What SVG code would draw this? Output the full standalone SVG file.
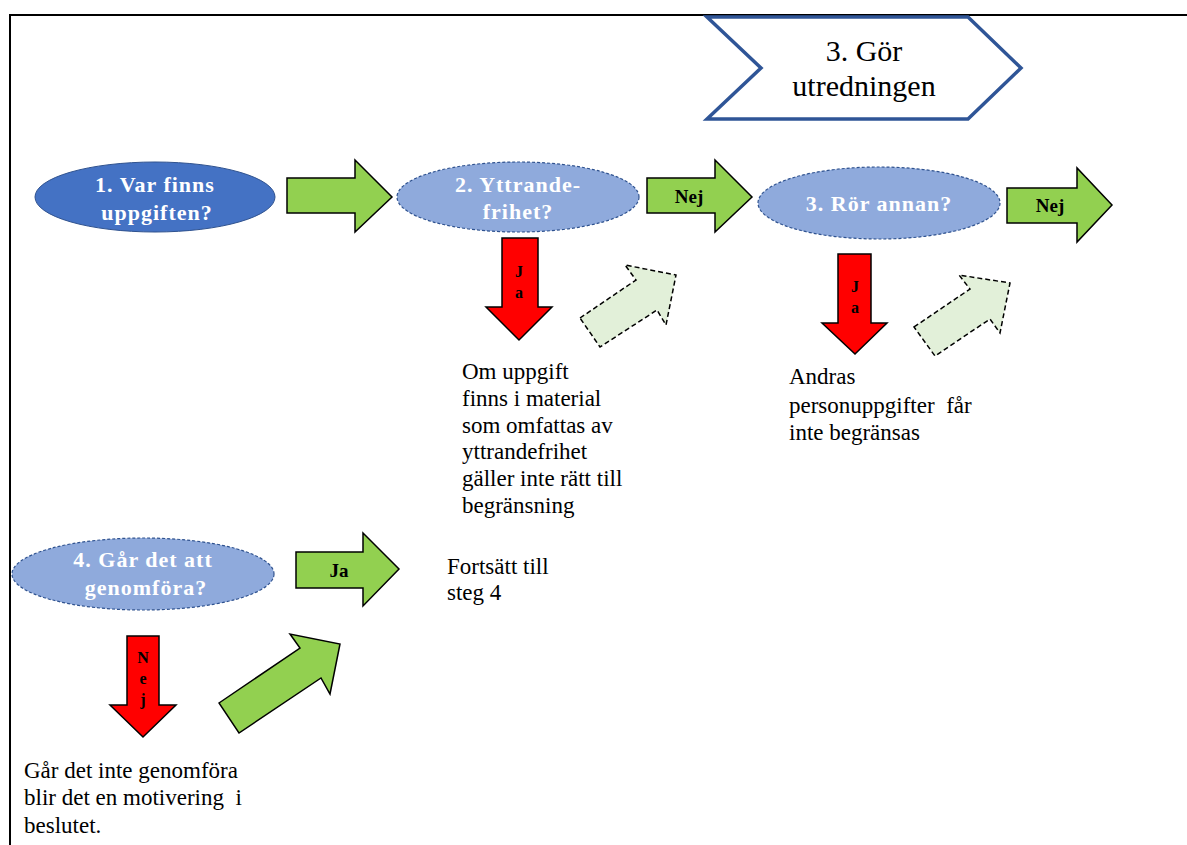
<svg xmlns="http://www.w3.org/2000/svg" width="1187" height="845" viewBox="0 0 1187 845">
  <style>
    .frame { fill: none; stroke: #000; stroke-width: 2; }
    .chev { fill: #fff; stroke: #2F5597; stroke-width: 3.5; }
    .q1 { fill: #4472C4; stroke: #2F528F; stroke-width: 1; }
    .q { fill: #8FAADC; stroke: #2F528F; stroke-width: 1.2; stroke-dasharray: 3 2; }
    .go { fill: #92D050; stroke: #000; stroke-width: 1.5; stroke-linejoin: miter; }
    .stop { fill: #FF0000; stroke: #000; stroke-width: 1.5; }
    .alt { fill: #E2F0D9; stroke: #000; stroke-width: 1.5; stroke-dasharray: 5 3; }
    .qt { font-family: "Liberation Serif", "Times New Roman", "DejaVu Serif", serif; font-weight: bold; font-size: 22px; fill: #fff; text-anchor: middle; letter-spacing: 1px; }
    .lbl { font-family: "Liberation Serif", "Times New Roman", "DejaVu Serif", serif; font-weight: bold; font-size: 19px; fill: #000; text-anchor: middle; }
    .vl { font-family: "Liberation Serif", "Times New Roman", "DejaVu Serif", serif; font-weight: bold; font-size: 16px; fill: #000; text-anchor: middle; }
    .body { font-family: "Liberation Serif", "Times New Roman", "DejaVu Serif", serif; font-size: 23px; fill: #000; }
    .head { font-family: "Liberation Serif", "Times New Roman", "DejaVu Serif", serif; font-size: 30px; fill: #000; text-anchor: middle; }
  </style>

  <rect width="1187" height="845" fill="#fff"/>
  <!-- page frame (runs off the right and bottom edges) -->
  <path class="frame" d="M10,900 V15 H1200"/>

  <!-- step header -->
  <g id="step3-header">
    <polygon class="chev" points="707,17 968,17 1021,68 968,119 707,119 761,68"/>
    <text class="head" x="864" y="61">3. Gör</text>
    <text class="head" x="864" y="96">utredningen</text>
  </g>

  <!-- questions -->
  <g id="q1">
    <ellipse class="q1" cx="155" cy="197" rx="120" ry="35"/>
    <text class="qt" x="155" y="192">1. Var finns</text>
    <text class="qt" x="157" y="220">uppgiften?</text>
  </g>
  <g id="q2">
    <ellipse class="q" cx="518" cy="197" rx="121" ry="35"/>
    <text class="qt" x="518" y="192">2. Yttrande-</text>
    <text class="qt" x="518" y="219">frihet?</text>
  </g>
  <g id="q3">
    <ellipse class="q" cx="879" cy="203" rx="121" ry="36"/>
    <text class="qt" x="879" y="211">3. Rör annan?</text>
  </g>
  <g id="q4">
    <ellipse class="q" cx="143" cy="574" rx="131" ry="36"/>
    <text class="qt" x="143" y="567">4. Går det att</text>
    <text class="qt" x="146" y="595">genomföra?</text>
  </g>

  <!-- notes -->
  <g id="note-yttrandefrihet">
    <text class="body" x="462" y="379">Om uppgift</text>
    <text class="body" x="462" y="406">finns i material</text>
    <text class="body" x="462" y="433">som omfattas av</text>
    <text class="body" x="462" y="459">yttrandefrihet</text>
    <text class="body" x="462" y="486">gäller inte rätt till</text>
    <text class="body" x="462" y="513">begränsning</text>
  </g>
  <g id="note-andras">
    <text class="body" x="789" y="384">Andras</text>
    <text class="body" x="789" y="413" xml:space="preserve">personuppgifter  får</text>
    <text class="body" x="789" y="440">inte begränsas</text>
  </g>
  <g id="note-fortsatt">
    <text class="body" x="447" y="574">Fortsätt till</text>
    <text class="body" x="447" y="600">steg 4</text>
  </g>
  <g id="note-genomfora">
    <text class="body" x="24" y="778">Går det inte genomföra</text>
    <text class="body" x="24" y="805" xml:space="preserve">blir det en motivering  i</text>
    <text class="body" x="24" y="833">beslutet.</text>
  </g>

  <!-- block arrows -->
  <g id="connectors">
    <polygon class="go" points="287,178 355,178 355,160 392,197 355,232 355,213 287,213"/>

    <polygon class="go" points="647,178 715,178 715,160 752,197 715,232 715,213 647,213"/>
    <text class="lbl" x="689" y="203">Nej</text>

    <polygon class="go" points="1007,188 1077,188 1077,168 1112,205 1077,242 1077,223 1007,223"/>
    <text class="lbl" x="1050" y="212">Nej</text>

    <polygon class="go" points="296,552 363,552 363,533 399,569 363,606 363,588 296,588"/>
    <text class="lbl" x="339" y="577">Ja</text>

    <polygon class="stop" points="502,238 538,238 538,307 552,307 519,340 486,307 502,307"/>
    <text class="vl" x="519" y="277">J</text>
    <text class="vl" x="519" y="298">a</text>

    <polygon class="stop" points="838,254 871,254 871,323 887,323 855,354 822,323 838,323"/>
    <text class="vl" x="855" y="292">J</text>
    <text class="vl" x="855" y="313">a</text>

    <polygon class="stop" points="127,636 159,636 159,705 176,705 143,737 110,705 127,705"/>
    <text class="vl" x="143" y="663">N</text>
    <text class="vl" x="143" y="684">e</text>
    <text class="vl" x="143" y="705">j</text>

    <polygon class="alt" points="580,318 636,280 625,265 676,275 666,325 657,310 600,347"/>
    <polygon class="alt" points="914,327 970,289 959,275 1010,283 1000,333 990,319 935,356"/>
    <polygon class="go" points="219,703 300,648 290,634 340,644 330,694 321,678 239,733"/>
  </g>
</svg>
